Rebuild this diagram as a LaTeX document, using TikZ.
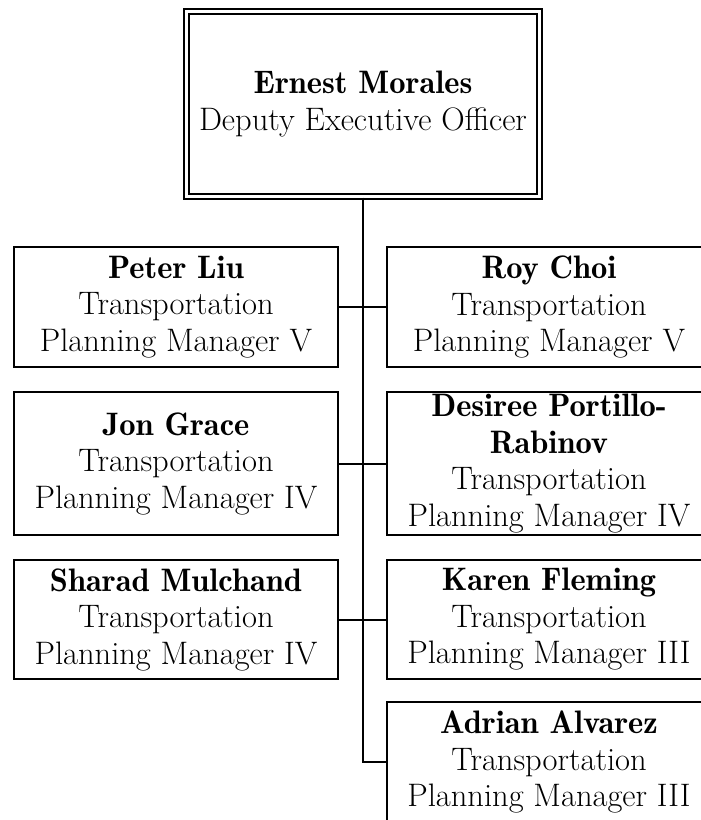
\documentclass[tikz,border=0pt]{standalone}
\usepackage{tikz}

\newcommand{\nm}[1]{{\fontseries{b}\selectfont #1}}

\begin{document}
\begin{tikzpicture}[x=1pt, y=-1pt,
  every node/.style={font=\fontsize{32.5}{36.5}\selectfont},
  link/.style={line width=2pt, black},
  staff/.style={draw=black, line width=2pt, align=center, inner sep=0pt,
    minimum width=324pt, minimum height=120pt},
  chief/.style={draw=black, line width=2pt, double, double distance=3pt,
    align=center, inner sep=0pt, minimum width=353pt, minimum height=185pt},
]
\useasboundingbox (0,0) rectangle (701,820);
\clip (0,0) rectangle (701,820);

% Head
\node[chief] (boss) at (363,104) {\nm{Ernest Morales}\\Deputy Executive Officer};

% Left column
\node[staff] (liu) at (176,307) {\nm{Peter Liu}\\Transportation\\Planning Manager V};
\node[staff, minimum height=143pt] (grace) at (176,463.5) {\nm{Jon Grace}\\Transportation\\Planning Manager IV};
\node[staff, minimum height=119pt] (mulchand) at (176,619.5) {\nm{Sharad Mulchand}\\Transportation\\Planning Manager IV};

% Right column
\node[staff] (choi) at (549,307) {\nm{Roy Choi}\\Transportation\\Planning Manager V};
\node[staff, minimum height=143pt] (portillo) at (549,463.5) {\nm{Desiree Portillo-}\\\nm{Rabinov}\\Transportation\\Planning Manager IV};
\node[staff, minimum height=119pt] (fleming) at (549,619.5) {\nm{Karen Fleming}\\Transportation\\Planning Manager III};
\node[staff] (alvarez) at (549,762) {\nm{Adrian Alvarez}\\Transportation\\Planning Manager III};

% Connectors
\draw[link] (boss.south) |- (alvarez.west);
\draw[link] (liu.east) -- (choi.west);
\draw[link] (grace.east) -- (portillo.west);
\draw[link] (mulchand.east) -- (fleming.west);

\end{tikzpicture}
\end{document}
